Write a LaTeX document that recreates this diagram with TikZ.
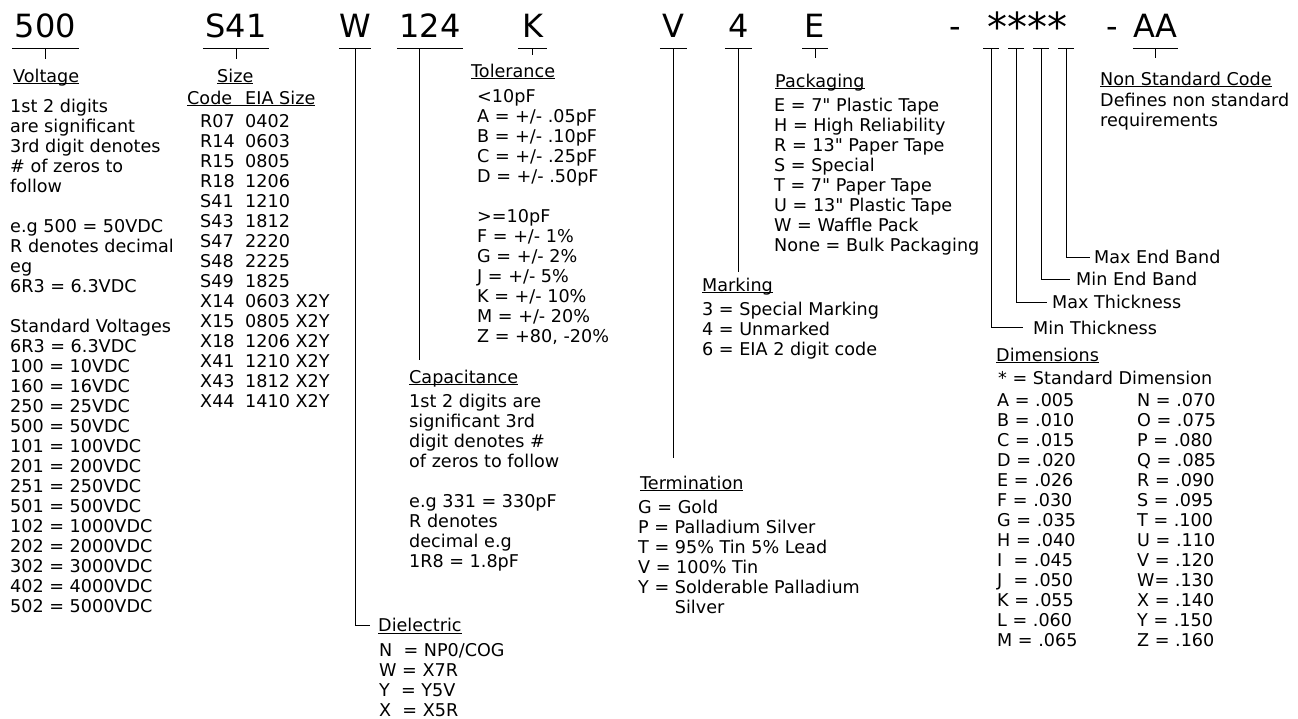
\documentclass[tikz,border=0pt]{standalone}
\usepackage{fontspec}
\setmainfont{DejaVu Sans}
\usepackage{tikz}

\newsavebox\headbox
\newcommand\ulined[1]{\sbox\headbox{#1}\rlap{\rule[-2.2pt]{\wd\headbox}{1pt}}\usebox\headbox}
\newcommand\szrow[2]{\makebox[45pt][l]{#1}#2}
\newcommand\lnstart{\rule{0pt}{14pt}}

\tikzset{
  code/.style={font=\fontsize{32}{36}\selectfont, inner sep=0pt, text depth=10pt, anchor=south},
  head/.style={font=\fontsize{17.6}{20}\selectfont, inner sep=0pt, text height=13pt, text depth=0pt, anchor=base west},
  body/.style={font=\fontsize{17.6}{20}\selectfont, inner sep=0pt, align=left, anchor=north west},
  lead/.style={line width=1pt},
  capbar/.style={inner sep=0pt, minimum height=0pt, minimum width=15pt}
}

\begin{document}
\begin{tikzpicture}[x=1pt,y=-1pt]
\useasboundingbox (0,0) rectangle (1298,718);
% part number
\node (c500) at (45.5,48)   [code,minimum width=67pt] {500};
\node (cS41) at (236,48)    [code,minimum width=66pt] {S41};
\node (cW)   at (355,48)    [code,minimum width=24pt] {W};
\node (c124) at (430,48)    [code,minimum width=66pt] {124};
\node (cK)   at (532.5,48)  [code,minimum width=29pt] {K};
\node (cV)   at (673.5,48)  [code,minimum width=27pt] {V};
\node (c4)   at (738.5,48)  [code,minimum width=27pt] {4};
\node (cE)   at (815,48)    [code,minimum width=25pt] {E};
\node (dash1) at (955,48)   [code] {-};
\node (cDim) at (1027.5,52) [code,font=\fontsize{40}{44}\selectfont] {****};
\node (dash2) at (1112,48)  [code] {-};
\node (cAA)  at (1155.5,48) [code,minimum width=45pt] {AA};
\node (d1) at (991,48)  [capbar] {};
\node (d2) at (1016,48) [capbar] {};
\node (d3) at (1041,48) [capbar] {};
\node (d4) at (1066,48) [capbar] {};
% headings
\node (volt) at (13,82)      [head] {\ulined{Voltage}};
\node (size) at (217,82)     [head] {\ulined{Size}};
\node (sizeH) at (187,104)   [head] {\ulined{Code\hspace{13pt}EIA Size}};
\node (tol)  at (471,77)     [head] {\ulined{Tolerance}};
\node (cap)  at (409,383)    [head] {\ulined{Capacitance}};
\node (diel) at (378,631.5)  [head] {\ulined{Dielectric}};
\node (term) at (640,489)    [head] {\ulined{Termination}};
\node (mark) at (702,291)    [head] {\ulined{Marking}};
\node (pack) at (775,87)     [head] {\ulined{Packaging}};
\node (dims) at (996,361)    [head] {\ulined{Dimensions}};
\node (nsc)  at (1100,85)    [head] {\ulined{Non Standard Code}};
\node (maxE) at (1094,263.5) [head] {Max End Band};
\node (minE) at (1076,285.5) [head] {Min End Band};
\node (maxT) at (1052,308.5) [head] {Max Thickness};
\node (minT) at (1033,334)   [head] {Min Thickness};
% tables (top = first baseline - 14)
\node (voltB) at (10,98) [body] {\lnstart 1st 2 digits\\are significant\\3rd digit denotes\\\# of zeros to\\follow\\[20pt]
  e.g 500 = 50VDC\\R denotes decimal\\eg\\6R3 = 6.3VDC\\[20pt]
  Standard Voltages\\6R3 = 6.3VDC\\100 = 10VDC\\160 = 16VDC\\250 = 25VDC\\500 = 50VDC\\
  101 = 100VDC\\201 = 200VDC\\251 = 250VDC\\501 = 500VDC\\102 = 1000VDC\\
  202 = 2000VDC\\302 = 3000VDC\\402 = 4000VDC\\502 = 5000VDC};
\node (sizeB) at (200,113) [body] {\lnstart\szrow{R07}{0402}\\\szrow{R14}{0603}\\\szrow{R15}{0805}\\
  \szrow{R18}{1206}\\\szrow{S41}{1210}\\\szrow{S43}{1812}\\\szrow{S47}{2220}\\
  \szrow{S48}{2225}\\\szrow{S49}{1825}\\\szrow{X14}{0603 X2Y}\\\szrow{X15}{0805 X2Y}\\
  \szrow{X18}{1206 X2Y}\\\szrow{X41}{1210 X2Y}\\\szrow{X43}{1812 X2Y}\\\szrow{X44}{1410 X2Y}};
\node (tolB) at (477,88) [body] {\lnstart<10pF\\A = +/- .05pF\\B = +/- .10pF\\C = +/- .25pF\\D = +/- .50pF\\[20pt]
  >=10pF\\F = +/- 1\%\\G = +/- 2\%\\J = +/- 5\%\\K = +/- 10\%\\M = +/- 20\%\\Z = +80, -20\%};
\node (capB) at (409,393) [body] {\lnstart 1st 2 digits are\\significant 3rd\\digit denotes \#\\of zeros to follow\\[20pt]
  e.g 331 = 330pF\\R denotes\\decimal e.g\\1R8 = 1.8pF};
\node (dielB) at (379,642) [body] {\lnstart N~ = NP0/COG\\W = X7R\\Y~ = Y5V\\X~ = X5R};
\node (termB) at (638,499) [body] {\lnstart G = Gold\\P = Palladium Silver\\T = 95\% Tin 5\% Lead\\V = 100\% Tin\\
  Y = Solderable Palladium\\\phantom{Y = }Silver};
\node (markB) at (702,301) [body] {\lnstart 3 = Special Marking\\4 = Unmarked\\6 = EIA 2 digit code};
\node (packB) at (774,97) [body] {\lnstart E = 7\textquotedbl{} Plastic Tape\\H = High Reliability\\
  R = 13\textquotedbl{} Paper Tape\\S = Special\\T = 7\textquotedbl{} Paper Tape\\
  U = 13\textquotedbl{} Plastic Tape\\W = Waffle Pack\\None = Bulk Packaging};
\node (dimStd) at (998,370) [body] {\lnstart * = Standard Dimension};
\node (dimL) at (997,392) [body] {\lnstart A = .005\\B = .010\\C = .015\\D = .020\\E = .026\\F = .030\\G = .035\\
  H = .040\\I~ = .045\\J~ = .050\\K = .055\\L = .060\\M = .065};
\node (dimR) at (1137,392) [body] {\lnstart N = .070\\O = .075\\P = .080\\Q = .085\\R = .090\\S = .095\\T = .100\\
  U = .110\\V = .120\\W= .130\\X = .140\\Y = .150\\Z = .160};
\node (nscB) at (1100,92) [body] {\lnstart Defines non standard\\requirements};
% underlines under the part number
\draw [lead] (c500.south west) -- (c500.south east);
\draw [lead] (cS41.south west) -- (cS41.south east);
\draw [lead] (cW.south west) -- (cW.south east);
\draw [lead] (c124.south west) -- (c124.south east);
\draw [lead] (cK.south west) -- (cK.south east);
\draw [lead] (cV.south west) -- (cV.south east);
\draw [lead] (c4.south west) -- (c4.south east);
\draw [lead] (cE.south west) -- (cE.south east);
\draw [lead] (cAA.south west) -- (cAA.south east);
\draw [lead] (d1.west) -- (d1.east);
\draw [lead] (d2.west) -- (d2.east);
\draw [lead] (d3.west) -- (d3.east);
\draw [lead] (d4.west) -- (d4.east);
% leaders
\draw [lead,shorten >=10pt] (c500.south) -- (c500.south |- volt.north);
\draw [lead,shorten >=10pt] (cS41.south) -- (cS41.south |- size.north);
\draw [lead,shorten >=8pt] (cW.south) |- (diel.west);
\draw [lead,shorten >=10pt] ([xshift=-11pt]c124.south) -- ([xshift=-11pt]c124.south |- cap.north);
\draw [lead,shorten >=9pt] (cK.south) -- (cK.south |- tol.north);
\draw [lead,shorten >=18pt] (cV.south) -- (cV.south |- term.north);
\draw [lead,shorten >=6pt] (c4.south) -- (c4.south |- mark.north);
\draw [lead,shorten >=16pt] (cE.south) -- (cE.south |- pack.north);
\draw [lead,shorten >=10pt] (d1) |- (minT.west);
\draw [lead,shorten >=5pt] (d2) |- (maxT.west);
\draw [lead,shorten >=6pt] (d3) |- (minE.west);
\draw [lead,shorten >=4pt] (d4) |- (maxE.west);
\draw [lead,shorten >=14pt] (cAA.south) -- (cAA.south |- nsc.north);
\end{tikzpicture}
\end{document}
